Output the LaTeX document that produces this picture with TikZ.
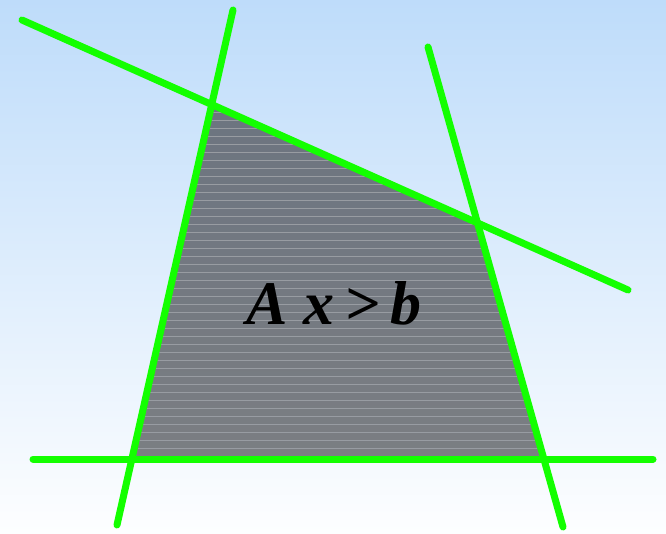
\documentclass[tikz,border=0pt]{standalone}
\usepackage{fontspec}
\setmainfont{Liberation Serif}
\newfontfamily\ineqfont{Liberation Serif}[UprightFont=*, BoldFont=* Bold, ItalicFont=* Italic, BoldItalicFont=* Bold Italic]
\begin{document}
\begin{tikzpicture}[x=1pt,y=-1pt,line cap=round]
      \definecolor{skyblue}{RGB}{190,220,250}
      \definecolor{regiongray}{RGB}{108,116,128}
      \definecolor{regionlow}{RGB}{123,126,130}
      \definecolor{stripegray}{RGB}{152,156,162}
      \tikzset{bound/.style={draw=green!90!lime, line width=7pt},
        stripe/.style={draw=stripegray, line width=0.7pt}}
      \useasboundingbox (0,0) rectangle (666,533);
      \shade[top color=skyblue, bottom color=white!97!skyblue] (0,0) rectangle (666,533);
      % line end points
      \coordinate (t1) at (22,20);   \coordinate (t2) at (628,290);
      \coordinate (l1) at (233,10);  \coordinate (l2) at (117,525);
      \coordinate (r1) at (428,47);  \coordinate (r2) at (563,527);
      \coordinate (b1) at (33,459);  \coordinate (b2) at (653,459);
      % corners of the feasible region
      \coordinate (tl) at (intersection of t1--t2 and l1--l2);
      \coordinate (tr) at (intersection of t1--t2 and r1--r2);
      \coordinate (br) at (intersection of b1--b2 and r1--r2);
      \coordinate (bl) at (intersection of b1--b2 and l1--l2);
      \begin{scope}
        \clip (tl) -- (tr) -- (br) -- (bl) -- cycle;
        \shade[top color=regiongray, bottom color=regionlow] (100,100) rectangle (560,460);
        \foreach \y in {112,120,...,456}
          \draw[stripe] (100,\y) -- (560,\y);
      \end{scope}
      \node (ineq) at (334,303) {\ineqfont\fontsize{62}{62}\selectfont\bfseries\itshape A x\,>\,b};
      \draw[bound] (t1) -- (t2);
      \draw[bound] (l1) -- (l2);
      \draw[bound] (r1) -- (r2);
      \draw[bound] (b1) -- (b2);
    \end{tikzpicture}
\end{document}
